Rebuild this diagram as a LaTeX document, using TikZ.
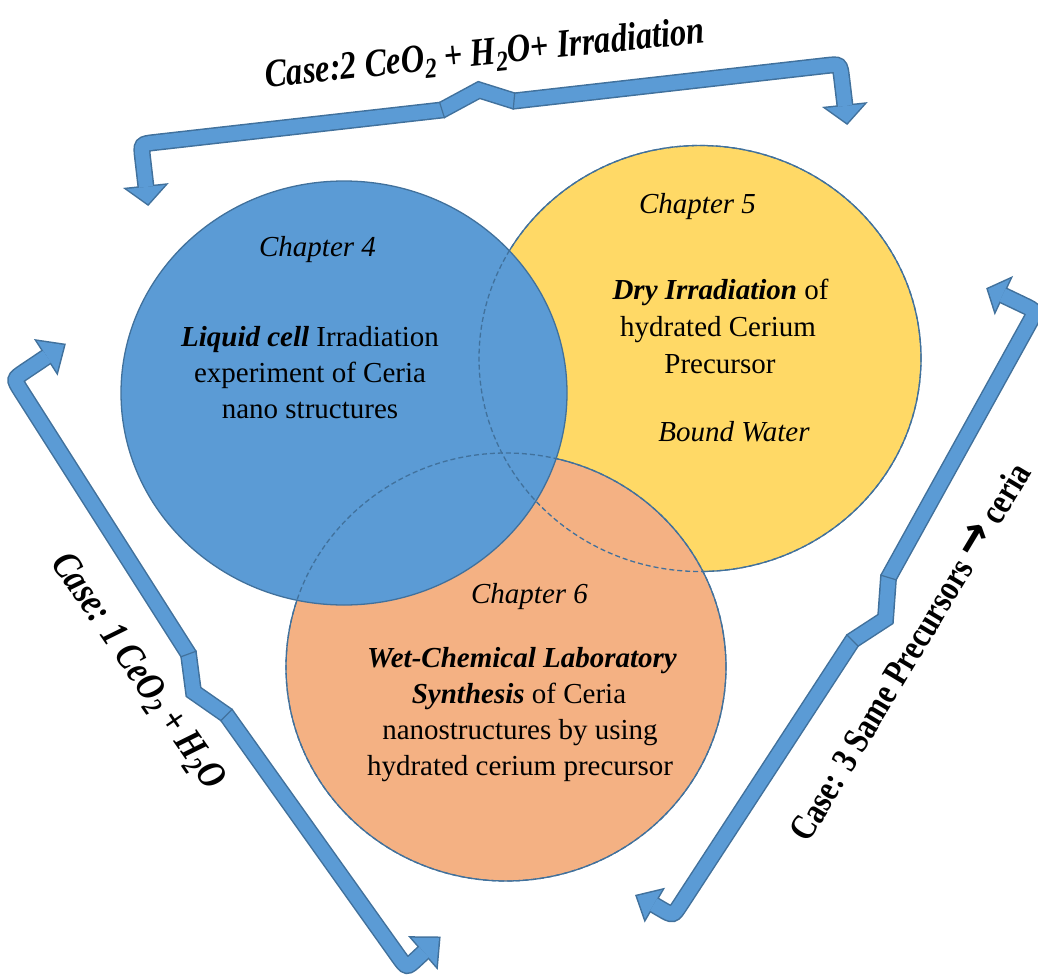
\documentclass[tikz,border=0pt]{standalone}
\usepackage{fontspec}
\setmainfont{Liberation Serif}
\newfontfamily\symfont{DejaVu Sans}
\usetikzlibrary{calc,shapes.geometric}
\definecolor{bandfill}{HTML}{5B9BD5}
\definecolor{bandline}{HTML}{41719C}
\definecolor{bluefill}{HTML}{5B9BD5}
\definecolor{yellowfill}{HTML}{FFD966}
\definecolor{orangefill}{HTML}{F4B183}
\definecolor{rim}{HTML}{41719C}
\newcommand{\mysub}[1]{\raisebox{-0.18em}{\scalebox{0.72}{#1}}}
\begin{document}
\begin{tikzpicture}[x=1pt,y=-1pt,
  circ/.style={ellipse, draw=rim, line width=1.3pt, inner sep=0pt},
  rimdash/.style={draw=rim, line width=1.3pt, dash pattern=on 5pt off 3pt},
  body/.style={font=\fontsize{29}{36}\selectfont, anchor=base, inner sep=0pt},
  chap/.style={font=\fontsize{29}{36}\selectfont\itshape, anchor=base, inner sep=0pt},
  casebi/.style={font=\fontsize{32.5}{38}\selectfont\bfseries\itshape, inner sep=0pt},
  caseb/.style={font=\fontsize{30}{38}\selectfont\bfseries, inner sep=0pt},
  bandout/.style={draw=bandline, line width=17pt, line join=miter},
  bandin/.style={draw=bandfill, line width=14pt, line join=miter},
  headout/.style={fill=bandline, draw=bandline, line width=3pt, line join=miter},
  headin/.style={fill=bandfill},
  divider/.style={draw=bandline, line width=1.2pt}
]
\useasboundingbox (0,0) rectangle (1038,974);

% ---- circles ----
\node[circ, fill=yellowfill, minimum width=442pt, minimum height=426pt] (ch5) at (700,358.5) {};
\node[circ, fill=orangefill, minimum width=440pt, minimum height=428pt] (ch6) at (506,667) {};
\node[circ, fill=bluefill, minimum width=446pt, minimum height=424pt] (ch4) at (344,393) {};
\path[rimdash] (ch5.center) ellipse [x radius=221pt, y radius=213pt];
\path[rimdash] (ch6.center) ellipse [x radius=220pt, y radius=214pt];

% ---- circle texts ----
\node[chap] (t4a) at (317.5,256) {Chapter 4};
\node[body] (t4b) at (310,346) {\textbf{\textit{Liquid cell}} Irradiation};
\node[body] (t4c) at (310,382) {experiment of Ceria};
\node[body] (t4d) at (310,418) {nano structures};

\node[chap] (t5a) at (697.5,213) {Chapter 5};
\node[body] (t5b) at (720.5,299) {\textbf{\textit{Dry Irradiation}} of};
\node[body] (t5c) at (718,336) {hydrated Cerium};
\node[body] (t5d) at (720,373) {Precursor};
\node[chap] (t5e) at (734,441) {Bound Water};

\node[chap] (t6a) at (529.5,603) {Chapter 6};
\node[body] (t6b) at (522,667) {\textbf{\textit{Wet-Chemical Laboratory}}};
\node[body] (t6c) at (519,703) {\textbf{\textit{Synthesis}} of Ceria};
\node[body] (t6d) at (520,739) {nanostructures by using};
\node[body] (t6e) at (520,775) {hydrated cerium precursor};

% ---- arrow coordinates ----
% top arrow
\coordinate (T0) at (146,187);
\coordinate (T1) at (141,144);
\coordinate (T2) at (442,110);
\coordinate (T3) at (479,90);
\coordinate (T4) at (514,101);
\coordinate (T5) at (840,64);
\coordinate (T6) at (845,106);
% left arrow
\coordinate (L0) at (47,356.5);
\coordinate (L1) at (13.5,379);
\coordinate (L2) at (188.5,654);
\coordinate (L3) at (193.5,692);
\coordinate (L4) at (226.5,715);
\coordinate (L5) at (406.7,968.1);
\coordinate (L6) at (424,952);
% right arrow
\coordinate (R0) at (1002.5,295);
\coordinate (R1) at (1036,311);
\coordinate (R2) at (888.5,577.5);
\coordinate (R3) at (885.5,619);
\coordinate (R4) at (852.5,640.5);
\coordinate (R5) at (673,916);
\coordinate (R6) at (653.5,904.5);

\def\toppath{(T0) -- ($(T1)!14pt!(T0)$) .. controls (T1) .. ($(T1)!14pt!(T2)$) -- (T2) -- (T3) -- (T4) -- ($(T5)!14pt!(T4)$) .. controls (T5) .. ($(T5)!14pt!(T6)$) -- (T6)}
\def\leftpath{(L0) -- ($(L1)!14pt!(L0)$) .. controls (L1) .. ($(L1)!14pt!(L2)$) -- (L2) -- (L3) -- (L4) -- ($(L5)!14pt!(L4)$) .. controls (L5) .. ($(L5)!14pt!(L6)$) -- (L6)}
\def\rightpath{(R0) -- ($(R1)!14pt!(R0)$) .. controls (R1) .. ($(R1)!14pt!(R2)$) -- (R2) -- (R3) -- (R4) -- ($(R5)!14pt!(R4)$) .. controls (R5) .. ($(R5)!14pt!(R6)$) -- (R6)}
\def\heads{%
  (148,204) -- (127,189) -- (165,185) -- cycle
  (847,123) -- (826,108) -- (864,104) -- cycle
  (64,345) -- (37,341) -- (57,372) -- cycle
  (439,938) -- (411.5,937.7) -- (436.5,966.3) -- cycle
  (988,289) -- (1010,279) -- (995,311) -- cycle
  (637,896) -- (662,890) -- (645,919) -- cycle}

% outline layer
\path[bandout] \toppath;
\path[bandout] \leftpath;
\path[bandout] \rightpath;
\path[headout] \heads;
% fill layer
\path[bandin] \toppath;
\path[bandin] \leftpath;
\path[bandin] \rightpath;
\path[headin] \heads;
% segment dividers
\path[divider] (439.4,101.7) -- (444.6,118.3);
\path[divider] (514.8,92.4) -- (513.2,109.6);
\path[divider] (180.3,657) -- (196.7,651);
\path[divider] (220.4,721.1) -- (232.6,708.9);
\path[divider] (880.2,575) -- (896.8,580);
\path[divider] (846.4,634.4) -- (858.6,646.6);

% ---- case labels ----
\node[casebi, anchor=base, rotate=5.8] (case2) at (486,65) {\scalebox{1}[1.22]{Case:2 CeO\mysub{2} + H\mysub{2}O+ Irradiation}};
\node[casebi, rotate=-55.5] (case1) at (137,672) {\scalebox{1}[1.22]{Case: 1 CeO\mysub{2} + H\mysub{2}O}};
\node[caseb, rotate=59] (case3) at (909,651) {\scalebox{1}[1.22]{Case: 3 Same Precursors \raisebox{0.02em}{\scalebox{1.35}{\symfont\bfseries →}} ceria}};
\end{tikzpicture}
\end{document}
